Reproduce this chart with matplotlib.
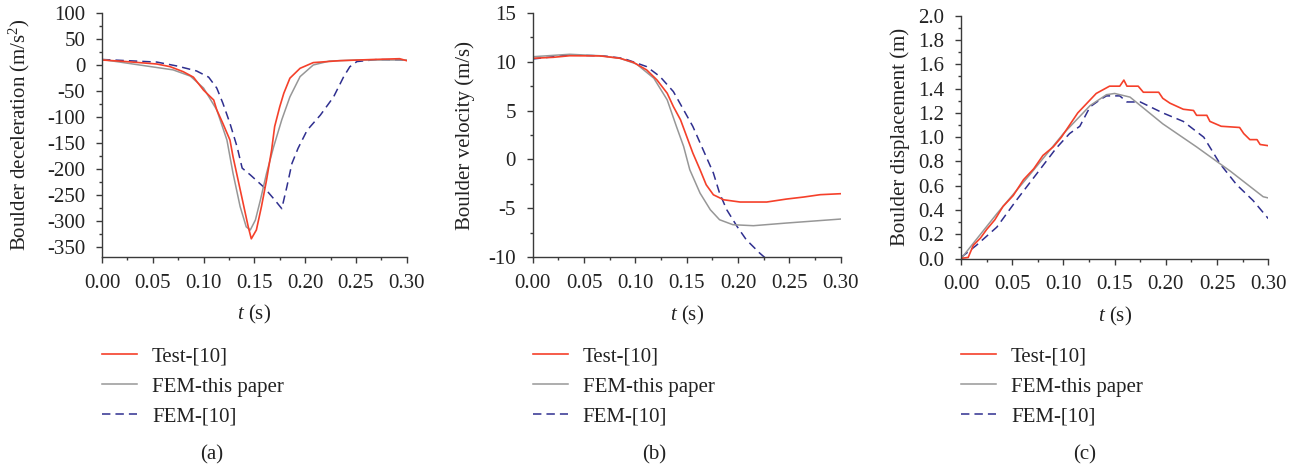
import numpy as np
import matplotlib
matplotlib.use("Agg")
import matplotlib.pyplot as plt
from matplotlib.ticker import MultipleLocator, FormatStrFormatter

plt.rcParams['font.family'] = ['Liberation Serif', 'DejaVu Serif']
plt.rcParams['mathtext.fontset'] = 'custom'
plt.rcParams['mathtext.rm'] = 'Liberation Serif'
plt.rcParams['mathtext.it'] = 'Liberation Serif:italic'
plt.rcParams['axes.unicode_minus'] = True

RED = '#f5402a'
GRAY = '#979797'
NAVY = '#2f2f8f'
AXC = '#3a3a3a'
TXT = '#222222'
FS = 15

# (a) deceleration
acc_test_t = [0, 0.021, 0.054, 0.067, 0.080, 0.090, 0.100, 0.110, 0.113, 0.119, 0.126, 0.129,
              0.134, 0.139, 0.144, 0.147, 0.152, 0.157, 0.162, 0.167, 0.170, 0.175, 0.179,
              0.185, 0.195, 0.208, 0.234, 0.267, 0.293, 0.300]
acc_test_v = [9, 6.4, 1.3, -3.8, -13.5, -24, -49, -68, -87, -113, -145, -177,
              -222, -267, -312, -335, -318, -273, -222, -164, -119, -81, -55,
              -26, -7, 4, 7.7, 10, 11.5, 7.7]
acc_fem_t = [0, 0.037, 0.070, 0.087, 0.100, 0.113, 0.123, 0.129, 0.136, 0.142, 0.146, 0.151,
             0.156, 0.162, 0.169, 0.177, 0.185, 0.195, 0.208, 0.224, 0.251, 0.284, 0.300]
acc_fem_v = [10, -0.6, -10, -22, -45, -87, -145, -209, -273, -312, -318, -299,
             -260, -209, -158, -106, -62, -23, -0.6, 7, 9, 9, 9]
acc_ref_t = [0, 0.054, 0.074, 0.093, 0.105, 0.113, 0.119, 0.126, 0.133, 0.138, 0.146, 0.159,
             0.170, 0.177, 0.182, 0.187, 0.193, 0.202, 0.215, 0.228, 0.238, 0.244, 0.251,
             0.271, 0.300]
acc_ref_v = [10, 5, -2.6, -12, -24, -45, -74, -113, -158, -199, -212, -235,
             -260, -277, -235, -190, -161, -126, -97, -62, -23, -4, 6,
             10, 9]

# (b) velocity
vel_test_t = [0, 0.020, 0.036, 0.066, 0.085, 0.098, 0.111, 0.121, 0.131, 0.137, 0.144, 0.150,
              0.156, 0.163, 0.169, 0.176, 0.186, 0.202, 0.228, 0.247, 0.264, 0.280, 0.300]
vel_test_v = [10.34, 10.44, 10.6, 10.58, 10.34, 9.93, 9.15, 8.13, 6.77, 5.41, 4.05, 2.35,
              0.65, -1.05, -2.59, -3.61, -4.12, -4.35, -4.35, -4.05, -3.84, -3.6, -3.5]
vel_fem_t = [0, 0.036, 0.066, 0.085, 0.101, 0.118, 0.131, 0.140, 0.147, 0.153, 0.163, 0.173,
             0.182, 0.195, 0.215, 0.247, 0.300]
vel_fem_v = [10.5, 10.75, 10.6, 10.34, 9.76, 8.3, 6.09, 3.37, 1.33, -1.05, -3.44, -5.14,
             -6.16, -6.67, -6.77, -6.5, -6.09]
vel_ref_t = [0, 0.036, 0.069, 0.088, 0.111, 0.124, 0.137, 0.147, 0.156, 0.166, 0.176, 0.182,
             0.189, 0.199, 0.208, 0.221, 0.228]
vel_ref_v = [10.27, 10.68, 10.58, 10.34, 9.49, 8.47, 6.94, 5.07, 3.37, 0.99, -1.39, -3.44,
             -5.14, -6.84, -8.2, -9.56, -10.2]

# (c) displacement
dis_test_t = [0, 0.007, 0.012, 0.019, 0.025, 0.033, 0.041, 0.051, 0.061, 0.071, 0.080, 0.090,
              0.098, 0.106, 0.114, 0.123, 0.132, 0.145, 0.155, 0.159, 0.162, 0.173, 0.178,
              0.193, 0.197, 0.204, 0.217, 0.227, 0.230, 0.240, 0.243, 0.254, 0.272, 0.276,
              0.282, 0.289, 0.292, 0.300]
dis_test_v = [0.003, 0.01, 0.11, 0.17, 0.24, 0.32, 0.43, 0.52, 0.65, 0.74, 0.85, 0.92,
              1.00, 1.10, 1.20, 1.28, 1.36, 1.42, 1.42, 1.47, 1.42, 1.42, 1.37,
              1.37, 1.32, 1.28, 1.23, 1.22, 1.18, 1.18, 1.13, 1.09, 1.08, 1.03,
              0.98, 0.98, 0.94, 0.93]
dis_fem_t = [0, 0.035, 0.067, 0.100, 0.126, 0.142, 0.150, 0.165, 0.181, 0.197, 0.230, 0.263,
             0.295, 0.300]
dis_fem_v = [0, 0.37, 0.69, 1.03, 1.26, 1.35, 1.36, 1.33, 1.22, 1.11, 0.92, 0.72,
             0.51, 0.50]
dis_ref_t = [0, 0.015, 0.035, 0.054, 0.074, 0.093, 0.106, 0.116, 0.126, 0.136, 0.142, 0.155,
             0.162, 0.175, 0.197, 0.217, 0.237, 0.253, 0.269, 0.285, 0.300]
dis_ref_v = [0.01, 0.11, 0.26, 0.48, 0.70, 0.91, 1.03, 1.09, 1.25, 1.31, 1.34, 1.34,
             1.29, 1.29, 1.20, 1.13, 1.00, 0.78, 0.61, 0.48, 0.33]

labels = ['Test-[10]', 'FEM-this paper', 'FEM-[10]']

# panel boxes in pixels: left, top, right, bottom
panels = [
    dict(rect=[102, 12.7, 406.7, 257], ylim=(-370, 100), major=50, minor=25, fmt='%d',
         ylabel='Boulder deceleration (m/s$^2$)', ylx=32, cap='(a)', capx=212,
         data=[(acc_test_t, acc_test_v), (acc_fem_t, acc_fem_v), (acc_ref_t, acc_ref_v)]),
    dict(rect=[532.7, 12.7, 840.7, 257.3], ylim=(-10, 15), major=5, minor=2.5, fmt='%d',
         ylabel='Boulder velocity (m/s)', ylx=475, cap='(b)', capx=654,
         data=[(vel_test_t, vel_test_v), (vel_fem_t, vel_fem_v), (vel_ref_t, vel_ref_v)]),
    dict(rect=[961, 15.7, 1268.3, 258.7], ylim=(0, 2.0), major=0.2, minor=0.1, fmt='%.1f',
         ylabel='Boulder displacement (m)', ylx=910, cap='(c)', capx=1085,
         data=[(dis_test_t, dis_test_v), (dis_fem_t, dis_fem_v), (dis_ref_t, dis_ref_v)]),
]

W, H = 1301, 468
fig = plt.figure(figsize=(W / 100, H / 100), dpi=100)

for p in panels:
    x0, y0, x1, y1 = p['rect']
    ax = fig.add_axes([x0 / W, 1 - y1 / H, (x1 - x0) / W, (y1 - y0) / H])
    (tt, tv), (ft, fv), (rt, rv) = p['data']
    ax.plot(rt, rv, color=NAVY, lw=1.1, ls=(0, (5.5, 3.3)), label=labels[2])
    ax.plot(ft, fv, color=GRAY, lw=1.1, label=labels[1])
    ax.plot(tt, tv, color=RED, lw=1.2, label=labels[0])

    ax.set_xlim(0, 0.30)
    ax.set_ylim(*p['ylim'])
    ax.xaxis.set_major_locator(MultipleLocator(0.05))
    ax.xaxis.set_minor_locator(MultipleLocator(0.025))
    ax.xaxis.set_major_formatter(FormatStrFormatter('%.2f'))
    ax.yaxis.set_major_locator(MultipleLocator(p['major']))
    ax.yaxis.set_minor_locator(MultipleLocator(p['minor']))
    ax.yaxis.set_major_formatter(FormatStrFormatter(p['fmt']))

    for s in ['top', 'right']:
        ax.spines[s].set_visible(False)
    for s in ['left', 'bottom']:
        ax.spines[s].set_color(AXC)
        ax.spines[s].set_linewidth(1.0)
    ax.tick_params(which='major', direction='out', length=4.5, width=1.0, color=AXC,
                   labelsize=FS, pad=7.5, labelcolor=TXT)
    ax.tick_params(which='minor', direction='out', length=2.5, width=1.0, color=AXC)

    ax.set_xlabel('$t$ (s)', fontsize=FS, color=TXT)
    ax.xaxis.set_label_coords(0.5, -0.19)
    ax.set_ylabel(p['ylabel'], fontsize=FS, color=TXT)
    ax.yaxis.set_label_coords((p['ylx'] - x0) / (x1 - x0), 0.5)

    h, l = ax.get_legend_handles_labels()
    order = [2, 1, 0]
    ax.legend([h[i] for i in order], [l[i] for i in order], frameon=False, fontsize=FS,
              loc='upper left', bbox_to_anchor=(x0 / W, 1 - 347 / H),
              bbox_transform=fig.transFigure, borderaxespad=0, borderpad=0,
              handlelength=1.7, handletextpad=0.7, labelspacing=0.5,
              labelcolor=TXT)

    fig.text(p['capx'] / W, 1 - 455 / H, p['cap'], ha='center', va='center',
             fontsize=FS, color=TXT)

fig.savefig('out.png', dpi=100)
